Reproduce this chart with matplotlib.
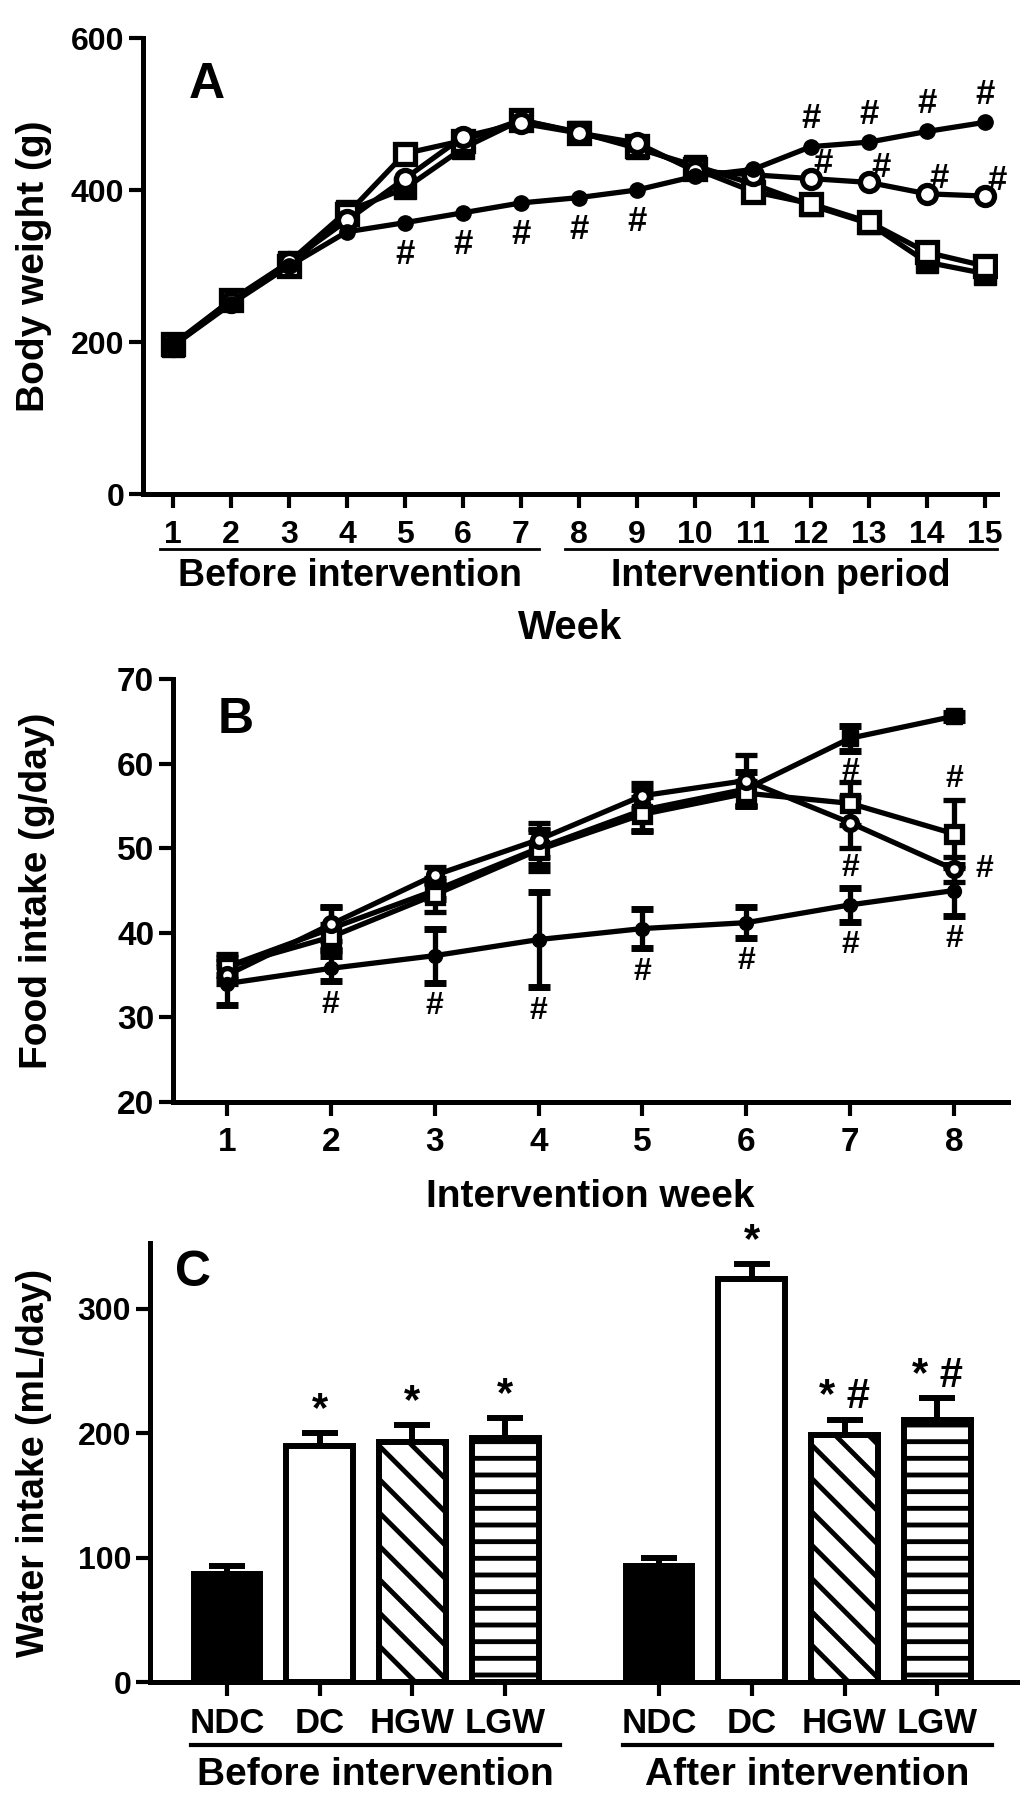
import numpy as np
import matplotlib
matplotlib.use('Agg')
import matplotlib.pyplot as plt
from matplotlib import transforms

plt.rcParams['font.family'] = ['Liberation Sans', 'DejaVu Sans']
plt.rcParams['font.weight'] = 'bold'
plt.rcParams['axes.linewidth'] = 3.6
plt.rcParams['hatch.linewidth'] = 3.5
plt.rcParams['hatch.color'] = 'black'

# ---- panel A: body weight ----
weeks_a = [1, 2, 3, 4, 5, 6, 7, 8, 9, 10, 11, 12, 13, 14, 15]
bw_ndc = [195, 250, 300, 345, 357, 370, 383, 390, 400, 418, 427, 457, 463, 477, 489]
bw_dc = [195, 255, 305, 372, 402, 455, 492, 476, 455, 432, 408, 380, 356, 305, 290]
bw_hgw = [197, 255, 300, 368, 448, 465, 492, 475, 458, 428, 398, 382, 358, 318, 300]
bw_lgw = [195, 252, 305, 360, 415, 470, 488, 475, 462, 425, 420, 415, 410, 395, 392]
ndc_hash_below = [5, 6, 7, 8, 9]
ndc_hash_above = [12, 13, 14, 15]
lgw_hash = [12, 13, 14, 15]

# ---- panel B: food intake ----
weeks_b = [1, 2, 3, 4, 5, 6, 7, 8]
fi_ndc = [34.0, 35.8, 37.3, 39.2, 40.5, 41.2, 43.3, 45.0]
fi_ndc_err = [2.5, 1.5, 3.2, 5.6, 2.3, 1.8, 2.0, 3.0]
fi_dc = [36.0, 40.5, 45.0, 50.0, 54.5, 57.0, 63.0, 65.6]
fi_dc_err = [1.0, 2.5, 1.0, 2.0, 2.5, 2.0, 1.5, 0.4]
fi_hgw = [36.0, 39.5, 44.5, 49.8, 54.0, 56.5, 55.3, 51.7]
fi_hgw_err = [1.5, 1.5, 2.0, 2.5, 2.0, 1.5, 2.5, 4.0]
fi_lgw = [35.0, 41.0, 46.8, 51.0, 56.2, 58.0, 53.0, 47.5]
fi_lgw_err = [1.0, 2.0, 1.0, 2.0, 1.5, 3.0, 3.0, 1.5]

# ---- panel C: water intake ----
groups = ['NDC', 'DC', 'HGW', 'LGW']
wi_before = [87, 190, 193, 196]
wi_before_err = [6, 10, 14, 16]
wi_after = [93, 324, 199, 211]
wi_after_err = [6.5, 12, 12, 17]
marks_before = ['', '*', '*', '*']
marks_after = ['', '*', '* #', '* #']

W, H = 1024, 1803
fig = plt.figure(figsize=(W / 100, H / 100), dpi=100)


def box(x0, y0, x1, y1):
    return [x0 / W, 1 - y1 / H, (x1 - x0) / W, (y1 - y0) / H]


def style(ax, size):
    ax.spines['top'].set_visible(False)
    ax.spines['right'].set_visible(False)
    ax.tick_params(width=3, length=10, labelsize=size)
    for lab in ax.get_xticklabels() + ax.get_yticklabels():
        lab.set_fontweight('bold')


# panel A
axA = fig.add_axes(box(143, 38, 997, 494))
axA.plot(weeks_a, bw_dc, color='k', lw=3.8, marker='s', ms=16, mfc='k', mec='k')
axA.plot(weeks_a, bw_hgw, color='k', lw=3.8, marker='s', ms=15, mfc='white', mec='k', mew=3.8)
axA.plot(weeks_a, bw_lgw, color='k', lw=3.8, marker='o', ms=13, mfc='white', mec='k', mew=3.8)
axA.plot(weeks_a, bw_ndc, color='k', lw=3.8, marker='o', ms=11, mfc='k', mec='k')
axA.set_xlim(0.483, 15.21)
axA.set_ylim(0, 600)
axA.set_xticks(weeks_a)
axA.set_yticks([0, 200, 400, 600])
style(axA, 23)
axA.tick_params(axis='x', pad=9)
for w in ndc_hash_below:
    axA.annotate('#', (w, bw_ndc[w - 1]), xytext=(0, -23), textcoords='offset points',
                 ha='center', va='center', fontsize=25, fontweight='bold')
for w in ndc_hash_above:
    axA.annotate('#', (w, bw_ndc[w - 1]), xytext=(0, 20), textcoords='offset points',
                 ha='center', va='center', fontsize=25, fontweight='bold')
for w in lgw_hash:
    axA.annotate('#', (w, bw_lgw[w - 1]), xytext=(9, 11), textcoords='offset points',
                 ha='center', va='center', fontsize=25, fontweight='bold')
trA = transforms.blended_transform_factory(axA.transData, axA.transAxes)
axA.plot([0.78, 7.31], [-0.1206, -0.1206], transform=trA, clip_on=False, color='k', lw=2)
axA.plot([7.76, 15.21], [-0.1206, -0.1206], transform=trA, clip_on=False, color='k', lw=2)
axA.text(4.05, -0.18, 'Before intervention', transform=trA, ha='center', va='center', fontsize=27)
axA.text(11.48, -0.18, 'Intervention period', transform=trA, ha='center', va='center', fontsize=27)
axA.text(0.5, -0.294, 'Week', transform=axA.transAxes, ha='center', va='center', fontsize=29)
axA.set_ylabel('Body weight (g)', fontsize=28, fontweight='bold')
axA.yaxis.set_label_coords(-0.107, 0.5)
axA.text(0.053, 0.947, 'A', transform=axA.transAxes, ha='left', va='top', fontsize=36)

# panel B
axB = fig.add_axes(box(173, 679, 1008, 1102))
eb = dict(color='k', lw=3.8, elinewidth=3.8, capsize=8, capthick=5)
axB.errorbar(weeks_b, fi_dc, yerr=fi_dc_err, marker='s', ms=12, mfc='k', mec='k', **eb)
axB.errorbar(weeks_b, fi_hgw, yerr=fi_hgw_err, marker='s', ms=11, mfc='white', mec='k', mew=3.8, **eb)
axB.errorbar(weeks_b, fi_lgw, yerr=fi_lgw_err, marker='o', ms=10, mfc='white', mec='k', mew=3.8, **eb)
axB.errorbar(weeks_b, fi_ndc, yerr=fi_ndc_err, marker='o', ms=10, mfc='k', mec='k', **eb)
axB.set_xlim(0.48, 8.52)
axB.set_ylim(20, 70)
axB.set_xticks(weeks_b)
axB.set_yticks([20, 30, 40, 50, 60, 70])
style(axB, 24)
axB.tick_params(axis='x', pad=8)
for i, w in enumerate(weeks_b[1:], start=1):
    axB.annotate('#', (w, fi_ndc[i] - fi_ndc_err[i]), xytext=(0, -17), textcoords='offset points',
                 ha='center', va='center', fontsize=23, fontweight='bold')
axB.annotate('#', (7, fi_dc[6] - fi_dc_err[6]), xytext=(0, -15), textcoords='offset points',
             ha='center', va='center', fontsize=23, fontweight='bold')
axB.annotate('#', (7, fi_lgw[6] - fi_lgw_err[6]), xytext=(0, -14), textcoords='offset points',
             ha='center', va='center', fontsize=23, fontweight='bold')
axB.annotate('#', (8, fi_hgw[7] + fi_hgw_err[7]), xytext=(0, 15), textcoords='offset points',
             ha='center', va='center', fontsize=23, fontweight='bold')
axB.annotate('#', (8, fi_lgw[7]), xytext=(22, 0), textcoords='offset points',
             ha='center', va='center', fontsize=23, fontweight='bold')
axB.text(0.5, -0.225, 'Intervention week', transform=axB.transAxes, ha='center', va='center', fontsize=28)
axB.set_ylabel('Food intake (g/day)', fontsize=28, fontweight='bold')
axB.yaxis.set_label_coords(-0.141, 0.5)
axB.text(0.054, 0.957, 'B', transform=axB.transAxes, ha='left', va='top', fontsize=36)

# panel C
axC = fig.add_axes(box(150, 1243, 1017, 1682))
pos_before = np.arange(len(groups))
pos_after = pos_before + 4.66
faces = ['k', 'white', 'white', 'white']
hatches = [None, None, '\\', '-']
for pos, vals, errs, marks in [(pos_before, wi_before, wi_before_err, marks_before),
                               (pos_after, wi_after, wi_after_err, marks_after)]:
    for p, v, e, m, fc, h in zip(pos, vals, errs, marks, faces, hatches):
        axC.errorbar(p, v, yerr=[[0], [e]], color='k', elinewidth=4.3, capsize=13, capthick=4.3, zorder=1)
        axC.bar(p, v, width=0.72, color=fc, edgecolor='k', lw=4.3, hatch=h, zorder=2)
        if m:
            axC.annotate(m, (p, v + e), xytext=(0, 2), textcoords='offset points',
                         ha='center', va='bottom', fontsize=30, fontweight='bold')
axC.set_xlim(-0.83, 8.52)
axC.set_ylim(0, 353)
axC.set_xticks(list(pos_before) + list(pos_after))
axC.set_xticklabels(groups + groups)
axC.set_yticks([0, 100, 200, 300])
style(axC, 23)
axC.tick_params(axis='x', labelsize=25, pad=8)
trC = transforms.blended_transform_factory(axC.transData, axC.transAxes)
axC.plot([-0.39, 3.59], [-0.1435, -0.1435], transform=trC, clip_on=False, color='k', lw=3)
axC.plot([4.27, 8.25], [-0.1435, -0.1435], transform=trC, clip_on=False, color='k', lw=3)
axC.text(1.6, -0.212, 'Before intervention', transform=trC, ha='center', va='center', fontsize=28)
axC.text(6.26, -0.212, 'After intervention', transform=trC, ha='center', va='center', fontsize=28)
axC.set_ylabel('Water intake (mL/day)', fontsize=27, fontweight='bold')
axC.yaxis.set_label_coords(-0.113, 0.5)
axC.text(0.029, 0.984, 'C', transform=axC.transAxes, ha='left', va='top', fontsize=36)

fig.savefig('out.png', dpi=100)
